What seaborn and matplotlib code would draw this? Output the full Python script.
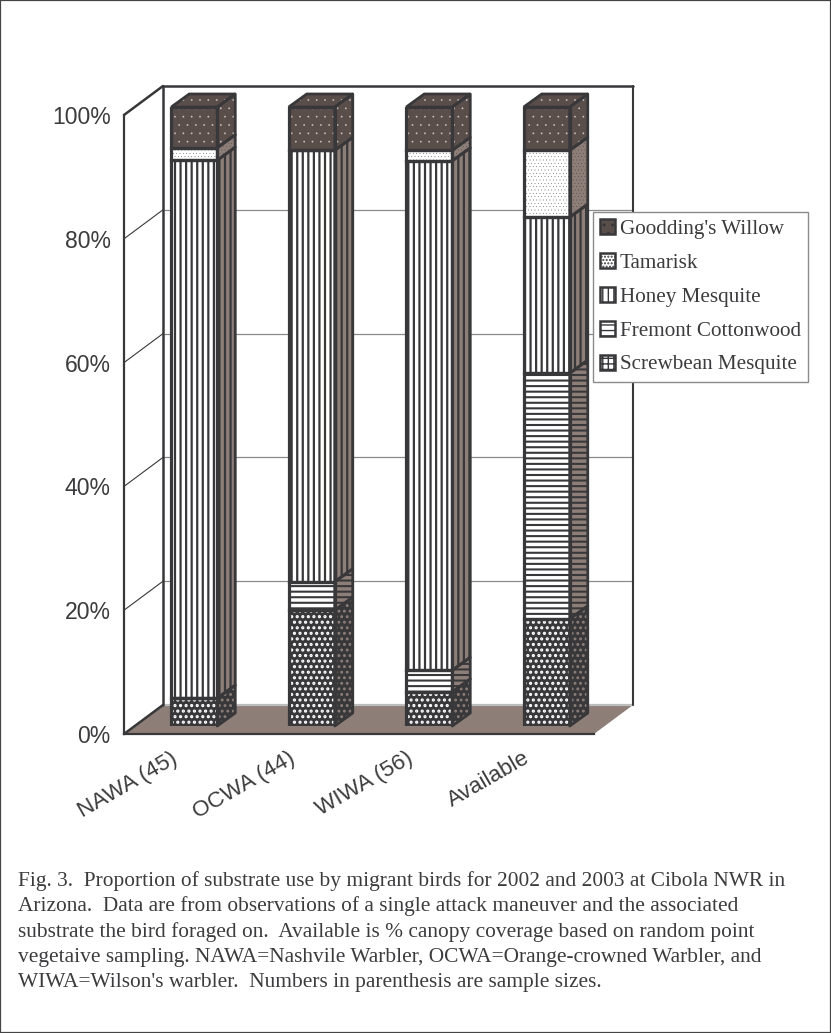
import matplotlib
matplotlib.use("Agg")
import matplotlib.pyplot as plt
import seaborn as sns
from matplotlib.patches import Polygon, Patch, Rectangle
from matplotlib.transforms import ScaledTranslation

categories = ["NAWA (45)", "OCWA (44)", "WIWA (56)", "Available"]
screwbean = [4.5, 18.7, 5.5, 17.3]
fremont = [0.0, 4.6, 3.5, 39.7]
honey = [86.9, 69.7, 82.3, 25.2]
tamarisk = [2.0, 0.0, 1.7, 10.8]
willow = [6.6, 7.0, 7.0, 7.0]
y_ticks = [0, 20, 40, 60, 80, 100]
caption = [
    "Fig. 3.  Proportion of substrate use by migrant birds for 2002 and 2003 at Cibola NWR in",
    "Arizona.  Data are from observations of a single attack maneuver and the associated",
    "substrate the bird foraged on.  Available is % canopy coverage based on random point",
    "vegetaive sampling. NAWA=Nashvile Warbler, OCWA=Orange-crowned Warbler, and",
    "WIWA=Wilson's warbler.  Numbers in parenthesis are sample sizes.",
]

DARK = "#38383a"
BROWN = "#8d7e78"
WILLOW = "#5a4e4b"
TEXT = "#3c3c3e"
# name, values, front(face, hatch colour, hatch, hatch lw), side(...), legend(face, hatch colour, hatch, hatch lw)
series = [
    ("Screwbean Mesquite", screwbean, (DARK, "white", "...", 1.5), (DARK, BROWN, "...", 1.3),
     ("white", DARK, "+++", 2.0)),
    ("Fremont Cottonwood", fremont, ("white", DARK, "---", 1.5), (BROWN, DARK, "---", 1.5),
     ("white", DARK, "---", 1.7)),
    ("Honey Mesquite", honey, ("white", DARK, "|||", 1.6), (BROWN, DARK, "|||", 1.6),
     ("white", DARK, "|||", 1.7)),
    ("Tamarisk", tamarisk, ("white", DARK, ".....", 0.1), (BROWN, DARK, ".....", 0.1),
     ("white", DARK, ".....", 0.2)),
    ("Goodding's Willow", willow, (WILLOW, "#c9c2bd", "..", 0.1), (WILLOW, "#c9c2bd", "..", 0.1),
     (WILLOW, "#c9c2bd", "..", 0.1)),
]

W, H = 831, 1033
sns.set_theme(style="white")
plt.rcParams["font.family"] = ["Liberation Sans", "DejaVu Sans"]
fig = plt.figure(figsize=(W / 100, H / 100), dpi=100, facecolor="white")


def px_axes(x0, x1, y_top, y_bot, **kw):
    return fig.add_axes([x0 / W, 1 - y_bot / H, (x1 - x0) / W, (y_bot - y_top) / H], **kw)


ax = px_axes(124, 594, 115, 734)
ax.set_facecolor("none")
ax.set_xlim(-0.5, 3.5)
ax.set_ylim(0, 100)

# depth of the box and of a bar, in data units (category widths, percent)
wall_dx, wall_dy = 39 / 117.5, 29 / 6.19
bar_dx, bar_dy = 18 / 117.5, 13 / 6.19
bar_w = 46 / 117.5

# floor, wall, gridlines
ax.add_patch(Polygon([(-0.5, 0), (3.5, 0), (3.5 + wall_dx, wall_dy), (-0.5 + wall_dx, wall_dy)],
                     closed=True, fc=BROWN, ec="none", clip_on=False, zorder=1))
bx0, bx1 = -0.5 + wall_dx, 3.5 + wall_dx
for t in y_ticks[1:-1]:
    ax.plot([bx0, bx1], [t + wall_dy] * 2, color="#8a8a8a", lw=0.9, clip_on=False, zorder=1.5)
    ax.plot([-0.5, bx0], [t, t + wall_dy], color=DARK, lw=0.8, clip_on=False, zorder=1.5)
ax.plot([bx0, bx1], [wall_dy] * 2, color="#bdbdbd", lw=1.6, clip_on=False, zorder=1.5)
ax.plot([bx1, bx1], [wall_dy, 100 + wall_dy], color=DARK, lw=1.5, clip_on=False, zorder=1.5)
ax.plot([bx0, bx0, bx1], [wall_dy, 100 + wall_dy, 100 + wall_dy], color=DARK, lw=1.8,
        clip_on=False, zorder=1.5)
ax.plot([-0.5, bx0], [100, 100 + wall_dy], color=DARK, lw=1.8, clip_on=False, zorder=1.5)
ax.plot([-0.5, bx0], [0, wall_dy], color=DARK, lw=1.8, clip_on=False, zorder=1.5)

# axes dressing
for s in ("top", "right"):
    ax.spines[s].set_visible(False)
for s in ("left", "bottom"):
    ax.spines[s].set_color(DARK)
    ax.spines[s].set_linewidth(1.6)
ax.set_yticks(y_ticks)
ax.set_yticklabels([f"{t}%" for t in y_ticks], fontsize=16.6, color=TEXT)
ax.set_xticks(range(4))
ax.set_xticklabels(categories, fontsize=16.2, color=TEXT, rotation=30, ha="right",
                   rotation_mode="anchor")
ax.set_xticks([-0.5, 0.5, 1.5, 2.5, 3.5], minor=True)
ax.tick_params(axis="x", which="major", length=0, pad=0)
ax.tick_params(axis="x", which="minor", length=6.5, width=1, color=DARK)
ax.tick_params(axis="y", length=6.5, width=1, color=DARK, pad=3)
shift = ScaledTranslation(-12 / 100, -14 / 100, fig.dpi_scale_trans)
for lab in ax.get_xticklabels():
    lab.set_transform(lab.get_transform() + shift)

# bars: an axes with the same scales, set back by the bars' gap from the front plane
ax_b = px_axes(124 + 11.5, 594 + 11.5, 115 - 8, 734 - 8)
ax_b.set_facecolor("none")
ax_b.axis("off")


def prism(x, b, t, style):
    fc, hc, hatch, hlw = style
    rx = x + bar_w / 2
    pts = [(rx, b), (rx + bar_dx, b + bar_dy), (rx + bar_dx, t + bar_dy), (rx, t)]
    with plt.rc_context({"hatch.linewidth": hlw}):
        ax_b.add_patch(Polygon(pts, closed=True, fc=fc, ec=hc, lw=0, hatch=hatch, clip_on=False, zorder=3))
    ax_b.add_patch(Polygon(pts, closed=True, fc="none", ec=DARK, lw=2.0, clip_on=False, zorder=3.2,
                           joinstyle="round"))


bottoms = [0.0] * 4
for name, vals, front, side, _ in series:
    fc, hc, hatch, hlw = front
    with plt.rc_context({"hatch.linewidth": hlw}):
        sns.barplot(x=categories, y=vals, bottom=bottoms, color=fc, saturation=1, width=bar_w,
                    edgecolor=hc, linewidth=0, hatch=hatch, ax=ax_b, zorder=3)
    sns.barplot(x=categories, y=vals, bottom=bottoms, color=DARK, saturation=1, width=bar_w,
                fill=False, linewidth=2.3, ax=ax_b, zorder=3.2)
    for i, v in enumerate(vals):
        if v > 0:
            prism(i, bottoms[i], bottoms[i] + v, side)
    bottoms = [b + v for b, v in zip(bottoms, vals)]

# bar tops
top_style = series[-1][3]
for i, t in enumerate(bottoms):
    lx, rx = i - bar_w / 2, i + bar_w / 2
    pts = [(lx, t), (rx, t), (rx + bar_dx, t + bar_dy), (lx + bar_dx, t + bar_dy)]
    with plt.rc_context({"hatch.linewidth": top_style[3]}):
        ax_b.add_patch(Polygon(pts, closed=True, fc=top_style[0], ec=top_style[1], lw=0,
                               hatch=top_style[2], clip_on=False, zorder=3))
    ax_b.add_patch(Polygon(pts, closed=True, fc="none", ec=DARK, lw=2.0, clip_on=False, zorder=3.2))
ax_b.set_xlim(-0.5, 3.5)
ax_b.set_ylim(0, 100)
ax_b.axis("off")

# legend
handles = []
for name, vals, front, side, lg in reversed(series):
    with plt.rc_context({"hatch.linewidth": lg[3]}):
        handles.append(Patch(fc=lg[0], ec=DARK, lw=1.8, hatch=lg[2]))
leg = ax_b.legend(handles, [s[0] for s in reversed(series)], loc="upper left",
                  bbox_to_anchor=(593 / W, 1 - 212 / H), bbox_transform=fig.transFigure,
                  prop={"family": "Liberation Serif", "size": 15.2}, labelcolor=TEXT,
                  fancybox=False, framealpha=1, facecolor="white", edgecolor="#8a8a8a",
                  handlelength=0.72, handleheight=0.72, handletextpad=0.2, labelspacing=0.66,
                  borderpad=0.34, borderaxespad=0)
leg.get_frame().set_linewidth(1.0)
leg.set_zorder(10)
ax_b.set_zorder(5)

# caption and outer frame
for k, line in enumerate(caption):
    fig.text(18 / W, 1 - (881 + k * 25.5) / H, line, family="Liberation Serif", fontsize=15.4,
             color=TEXT, va="center", ha="left")
fig.add_artist(Rectangle((0, 0), 1, 1, transform=fig.transFigure, fc="none", ec="#444444", lw=1.6))

fig.savefig("out.png", dpi=100)
